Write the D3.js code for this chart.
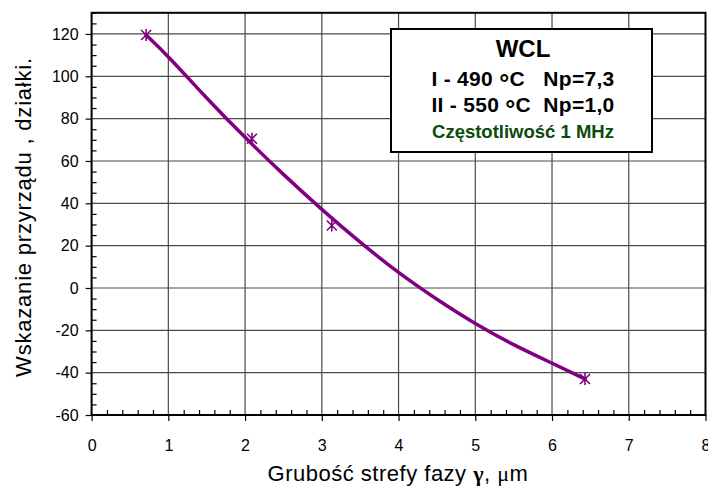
<!DOCTYPE html>
<html>
<head>
<meta charset="utf-8">
<script src="https://cdn.jsdelivr.net/npm/d3@7/dist/d3.min.js"></script>
<style>
  html, body { margin: 0; padding: 0; background: #fff; overflow: hidden; }
  svg { display: block; font-family: "Liberation Sans", Arial, sans-serif; }
  .pre { white-space: pre; }
</style>
</head>
<body>
<svg id="chart" width="708" height="488"></svg>
<script>
// Measured points (instrument reading vs. phase-zone thickness)
const pointsX = [0.71, 2.09, 3.13, 6.43];
const pointsY = [119.5, 70.5, 29.5, -43];

// Fitted trend curve through the measurements
const trendX = [0.71, 1, 1.5, 2, 2.5, 3, 3.5, 4, 4.5, 5, 5.5, 6, 6.43];
const trendY = [119.5, 109.5, 89.5, 71, 53.5, 37, 21.5, 7, -5.5, -17, -27, -35.5, -43];

// Axis ticks
const xTicks = [0, 1, 2, 3, 4, 5, 6, 7, 8];
const yTicks = [-60, -40, -20, 0, 20, 40, 60, 80, 100, 120];

// Legend text
const legendTitle = "WCL";
const legendLines = [
  ["I - 490 ", "°", "C   Np=7,3"],
  ["II - 550 ", "°", "C  Np=1,0"]
];
const legendNote = "Częstotliwość 1 MHz";

const svg = d3.select("#chart");
const plot = { left: 91.6, right: 705.5, top: 12.8, bottom: 415 };

const x = d3.scaleLinear().domain([0, 8]).range([plot.left, plot.right]);
const y = d3.scaleLinear().domain([-60, 130]).range([plot.bottom, plot.top]);

const purple = "#800080";
const fontFam = "'Liberation Sans', Arial, sans-serif";

// Grid lines
const grid = svg.append("g");
grid.selectAll("line.v").data(xTicks.slice(1, -1)).join("line")
  .attr("x1", d => x(d)).attr("x2", d => x(d))
  .attr("y1", plot.top).attr("y2", plot.bottom)
  .attr("stroke", "#4a4a4a").attr("stroke-width", 1.2);
grid.selectAll("line.h").data(yTicks.slice(1)).join("line")
  .attr("x1", plot.left).attr("x2", plot.right)
  .attr("y1", d => y(d)).attr("y2", d => y(d))
  .attr("stroke", "#4a4a4a").attr("stroke-width", 1.2);

// Minor ticks (inside)
const xMinor = d3.range(0, 8.001, 0.2).filter(v => Math.abs(v - Math.round(v)) > 1e-6);
const yMinor = d3.range(-60, 130.001, 5).filter(v => v % 20 !== 0);
svg.append("g").attr("transform", `translate(0,${plot.bottom})`)
  .call(d3.axisBottom(x).tickValues(xMinor).tickSizeInner(-5).tickSizeOuter(0).tickFormat(""))
  .call(g => g.select(".domain").remove())
  .call(g => g.selectAll("line").attr("stroke", "#000").attr("stroke-width", 1.2));
svg.append("g").attr("transform", `translate(${plot.left},0)`)
  .call(d3.axisLeft(y).tickValues(yMinor).tickSizeInner(-5).tickSizeOuter(0).tickFormat(""))
  .call(g => g.select(".domain").remove())
  .call(g => g.selectAll("line").attr("stroke", "#000").attr("stroke-width", 1.2));

// Major axes
const fmt = d => String(d);
svg.append("g").attr("transform", `translate(0,${plot.bottom})`)
  .call(d3.axisBottom(x).tickValues(xTicks).tickSizeInner(6).tickSizeOuter(0).tickPadding(19).tickFormat(fmt))
  .call(g => g.select(".domain").remove())
  .call(g => g.selectAll("line").attr("stroke", "#000").attr("stroke-width", 1.2))
  .call(g => g.selectAll("text").attr("font-size", 16).attr("fill", "#000").attr("font-family", fontFam));
svg.append("g").attr("transform", `translate(${plot.left},0)`)
  .call(d3.axisLeft(y).tickValues(yTicks).tickSizeInner(6).tickSizeOuter(0).tickPadding(7).tickFormat(fmt))
  .call(g => g.select(".domain").remove())
  .call(g => g.selectAll("line").attr("stroke", "#000").attr("stroke-width", 1.2))
  .call(g => g.selectAll("text").attr("font-size", 16).attr("fill", "#000").attr("font-family", fontFam));

// Plot frame
svg.append("rect")
  .attr("x", plot.left).attr("y", plot.top)
  .attr("width", plot.right - plot.left).attr("height", plot.bottom - plot.top)
  .attr("fill", "none").attr("stroke", "#000").attr("stroke-width", 2);

// Trend curve
const trend = trendX.map((v, i) => [v, trendY[i]]);
svg.append("path")
  .datum(trend)
  .attr("d", d3.line().x(d => x(d[0])).y(d => y(d[1])).curve(d3.curveBasis))
  .attr("fill", "none").attr("stroke", purple).attr("stroke-width", 3.5)
  .attr("stroke-linejoin", "round").attr("stroke-linecap", "round");

// Star markers
const pts = pointsX.map((v, i) => [v, pointsY[i]]);
const r = 5;
const star = `M${-r},${-r}L${r},${r}M${-r},${r}L${r},${-r}M0,${-r * 1.2}L0,${r * 1.2}`;
svg.append("g").selectAll("path").data(pts).join("path")
  .attr("transform", d => `translate(${x(d[0])},${y(d[1])})`)
  .attr("d", star)
  .attr("fill", "none").attr("stroke", purple).attr("stroke-width", 1.6);

// Legend box
const lg = svg.append("g");
lg.append("rect")
  .attr("x", 391).attr("y", 29).attr("width", 261).attr("height", 123)
  .attr("fill", "#fff").attr("stroke", "#000").attr("stroke-width", 2);
const cx = 523;
lg.append("text").attr("x", cx).attr("y", 56.5).attr("text-anchor", "middle")
  .attr("font-size", 24).attr("font-weight", "bold").text(legendTitle);
[86, 111.5].forEach((base, i) => {
  const t = lg.append("text").attr("class", "pre").attr("x", cx).attr("y", base)
    .attr("text-anchor", "middle").attr("font-size", 21).attr("font-weight", "bold")
    .attr("letter-spacing", 0.3);
  const parts = legendLines[i];
  t.append("tspan").text(parts[0]);
  t.append("tspan").attr("dy", 6).attr("font-size", 25).text(parts[1]);
  t.append("tspan").attr("dy", -6).text(parts[2]);
});
lg.append("text").attr("x", cx).attr("y", 138).attr("text-anchor", "middle")
  .attr("font-size", 18.5).attr("font-weight", "bold").attr("fill", "#0b4a0b")
  .text(legendNote);

// Axis titles
const xt = svg.append("text").attr("x", 398).attr("y", 481).attr("text-anchor", "middle")
  .attr("font-size", 22).attr("letter-spacing", 0.5).attr("fill", "#000");
xt.append("tspan").text("Grubość strefy fazy ");
xt.append("tspan").attr("font-family", "'Liberation Serif', 'DejaVu Serif', serif")
  .attr("font-weight", "bold").text("γ");
xt.append("tspan").text(", ");
xt.append("tspan").attr("font-family", "'Liberation Serif', 'DejaVu Serif', serif").text("μ");
xt.append("tspan").text("m");

svg.append("text")
  .attr("transform", "translate(31,217) rotate(-90)")
  .attr("text-anchor", "middle").attr("font-size", 22).attr("letter-spacing", 0.8).attr("fill", "#000")
  .text("Wskazanie przyrządu , działki.");
</script>
</body>
</html>
